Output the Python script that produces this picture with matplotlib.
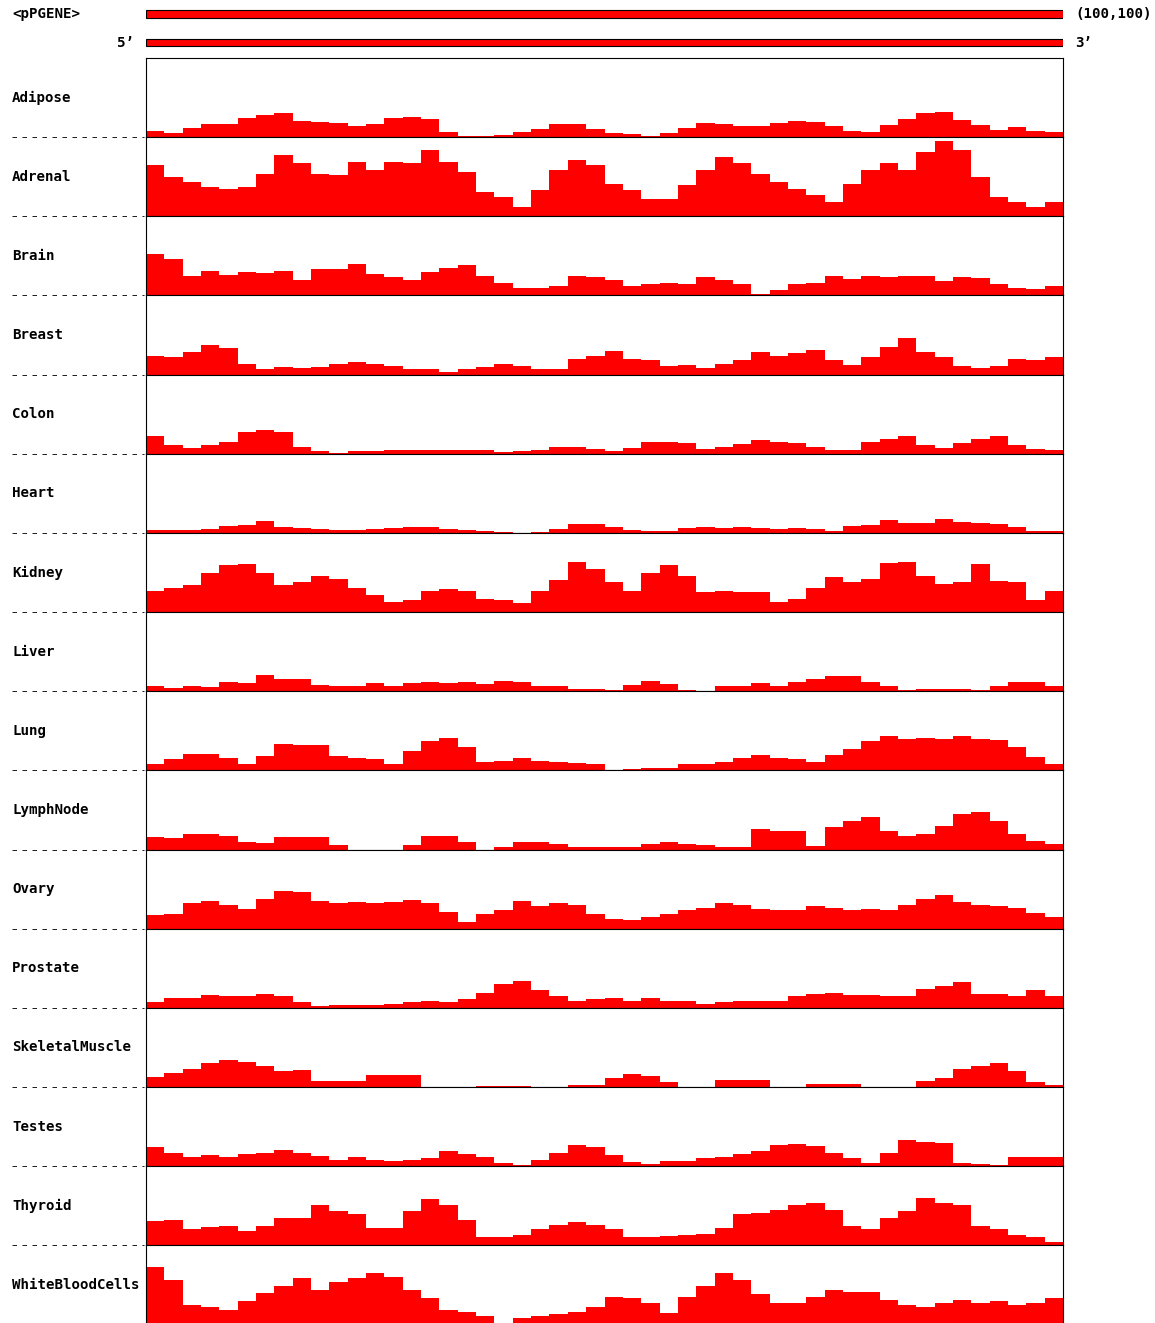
import numpy as np
import matplotlib
matplotlib.use("Agg")
import matplotlib.pyplot as plt

# expression profile along the gene, % of track height, 50 bins from 5' to 3'
adipose = [8, 5, 12, 16, 17, 24, 28, 30, 21, 19, 18, 14, 17, 24, 25, 23, 6, 2, 1, 3,
           6, 10, 17, 16, 10, 5, 4, 2, 5, 11, 18, 17, 14, 14, 18, 20, 19, 14, 8, 7,
           15, 23, 30, 32, 22, 15, 9, 13, 8, 7]
adrenal = [65, 50, 43, 37, 34, 37, 54, 77, 67, 54, 52, 69, 58, 69, 67, 84, 69, 56, 31, 24,
           12, 33, 58, 71, 65, 41, 33, 22, 22, 39, 58, 75, 67, 54, 43, 34, 27, 18, 41, 58,
           67, 58, 81, 95, 84, 50, 24, 18, 12, 18]
brain = [52, 46, 25, 31, 26, 29, 28, 31, 19, 33, 33, 40, 27, 23, 19, 29, 35, 38, 25, 16,
         10, 10, 12, 24, 23, 19, 12, 15, 16, 15, 23, 19, 15, 2, 7, 14, 16, 25, 21, 25,
         23, 25, 25, 18, 23, 22, 15, 9, 8, 12]
breast = [24, 22, 28, 38, 33, 14, 7, 10, 8, 10, 14, 16, 13, 11, 7, 7, 3, 7, 10, 13,
          11, 7, 7, 20, 24, 30, 20, 19, 11, 12, 8, 14, 18, 29, 24, 27, 31, 18, 12, 22,
          35, 46, 29, 22, 11, 8, 11, 20, 19, 22]
colon = [22, 11, 7, 11, 15, 28, 30, 28, 9, 3, 0.5, 3, 3, 5, 5, 5, 5, 5, 5, 2,
         3, 5, 8, 9, 6, 4, 7, 15, 15, 13, 6, 9, 12, 17, 15, 13, 9, 5, 5, 15,
         19, 22, 11, 7, 13, 19, 22, 11, 6, 5]
heart = [4, 4, 4, 5, 9, 10, 15, 8, 6, 5, 4, 4, 5, 6, 8, 8, 5, 4, 3, 1,
         0.5, 1, 5, 11, 11, 8, 4, 2, 3, 6, 8, 6, 7, 6, 5, 6, 5, 3, 9, 10,
         16, 12, 13, 18, 14, 13, 11, 8, 3, 3]
kidney = [27, 30, 34, 49, 59, 61, 49, 34, 38, 46, 42, 30, 21, 13, 15, 26, 29, 27, 16, 15,
          11, 27, 40, 63, 55, 38, 27, 49, 59, 46, 25, 27, 25, 25, 13, 17, 30, 44, 38, 42,
          62, 63, 46, 36, 38, 61, 39, 38, 15, 26]
liver = [6, 4, 6, 5, 11, 10, 20, 16, 15, 8, 7, 6, 10, 7, 10, 11, 10, 11, 9, 13,
         12, 6, 6, 3, 3, 1, 8, 13, 9, 1, 0, 6, 7, 10, 6, 12, 15, 19, 19, 12,
         6, 1, 3, 3, 3, 1, 7, 11, 12, 6]
lung = [8, 14, 21, 21, 16, 8, 18, 33, 32, 32, 18, 16, 14, 8, 24, 37, 41, 29, 10, 12,
        16, 12, 10, 9, 8, 1, 2, 3, 3, 8, 8, 10, 16, 19, 15, 14, 10, 20, 27, 37,
        43, 39, 41, 39, 43, 39, 38, 29, 17, 8]
lymphnode = [16, 14, 19, 20, 17, 10, 8, 16, 16, 16, 6, 0, 0, 0, 6, 17, 17, 10, 0, 3,
             10, 10, 7, 3, 3, 3, 3, 7, 9, 7, 6, 3, 3, 26, 24, 24, 5, 28, 36, 41,
             24, 17, 20, 30, 45, 47, 36, 19, 11, 7]
ovary = [17, 19, 32, 35, 30, 25, 38, 47, 46, 35, 33, 34, 32, 34, 36, 32, 21, 8, 19, 23,
         35, 29, 33, 30, 18, 12, 11, 15, 19, 23, 26, 32, 30, 25, 23, 23, 29, 26, 24, 25,
         23, 30, 38, 42, 34, 30, 29, 26, 20, 15]
prostate = [7, 12, 13, 16, 15, 15, 17, 15, 7, 2, 3, 4, 3, 5, 7, 8, 7, 11, 19, 30,
            34, 22, 15, 8, 11, 12, 9, 12, 9, 8, 5, 7, 9, 8, 9, 15, 17, 19, 16, 16,
            15, 15, 24, 28, 32, 17, 17, 15, 22, 15]
skeletal = [13, 18, 23, 30, 34, 32, 27, 20, 21, 8, 8, 8, 15, 15, 15, 0, 0, 0, 1, 1,
            1, 0, 0, 3, 3, 11, 16, 14, 6, 0, 0, 9, 9, 9, 0, 0, 4, 4, 4, 0,
            0, 0, 8, 11, 23, 27, 30, 20, 6, 3]
testes = [24, 16, 11, 14, 11, 15, 17, 20, 17, 13, 8, 11, 8, 7, 8, 10, 19, 15, 12, 4,
          1, 8, 16, 27, 24, 14, 5, 3, 7, 7, 10, 12, 15, 19, 27, 28, 25, 16, 10, 4,
          16, 33, 31, 29, 4, 3, 1, 12, 12, 12]
thyroid = [31, 32, 20, 23, 24, 18, 24, 35, 35, 51, 43, 40, 22, 22, 43, 58, 51, 32, 11, 11,
           13, 20, 26, 30, 26, 20, 11, 11, 12, 13, 14, 22, 39, 41, 45, 51, 54, 45, 24, 20,
           35, 43, 60, 54, 51, 24, 20, 13, 11, 4]
wbc = [73, 56, 24, 22, 18, 29, 40, 49, 58, 43, 54, 58, 65, 60, 43, 33, 18, 16, 11, 0,
       8, 11, 13, 16, 22, 35, 33, 27, 14, 35, 48, 65, 56, 39, 27, 27, 35, 43, 41, 41,
       31, 24, 22, 27, 31, 27, 30, 24, 27, 33]

tissues = ["Adipose", "Adrenal", "Brain", "Breast", "Colon", "Heart", "Kidney", "Liver",
           "Lung", "LymphNode", "Ovary", "Prostate", "SkeletalMuscle", "Testes",
           "Thyroid", "WhiteBloodCells"]
profiles = [adipose, adrenal, brain, breast, colon, heart, kidney, liver, lung,
            lymphnode, ovary, prostate, skeletal, testes, thyroid, wbc]

gene_name = "<pPGENE>"
gene_span = (0, 100)
gene_label = "(100,100)"

RED = "#ff0000"
W, H = 1155, 1323
LEFT, WIDTH = 146, 917
TOP, PITCH = 58, 79.15
FONT = dict(family="DejaVu Sans Mono", fontweight="bold", fontsize=10.2)

fig = plt.figure(figsize=(W / 100, H / 100), dpi=100)


def px_axes(x0, y0, w, h):
    return fig.add_axes([x0 / W, 1 - (y0 + h) / H, w / W, h / H])


# background layer in pixel units for labels and separators
bg = fig.add_axes([0, 0, 1, 1], zorder=0)
bg.set_xlim(0, W)
bg.set_ylim(H, 0)
bg.axis("off")

# header: gene bar and transcript bar
hdr = px_axes(LEFT, 0, WIDTH, TOP)
hdr.set_xlim(*gene_span)
hdr.set_ylim(TOP, 0)
hdr.axis("off")
hdr.barh([14, 42.5], [gene_span[1] - gene_span[0]] * 2, left=gene_span[0],
         height=[8, 7.5], color=RED, edgecolor="black", linewidth=0.8)

bg.text(12, 14, gene_name, va="center", ha="left", **FONT)
bg.text(1075, 14, gene_label, va="center", ha="left", **FONT)
bg.text(134, 43, "5\u2019", va="center", ha="right", **FONT)
bg.text(1075, 43, "3\u2019", va="center", ha="left", **FONT)

for i, (name, vals) in enumerate(zip(tissues, profiles)):
    top = TOP + PITCH * i
    ax = px_axes(LEFT, top, WIDTH, PITCH)
    ax.set_zorder(2)
    n = len(vals)
    ax.stairs(vals, np.arange(n + 1), fill=True, color=RED, linewidth=0)
    ax.set_xlim(0, n)
    ax.set_ylim(0, 100)
    ax.set_xticks([])
    ax.set_yticks([])
    for sp in ax.spines.values():
        sp.set_linewidth(0.8)
        sp.set_color("black")

    bg.text(12, top + PITCH / 2, name, va="center", ha="left", **FONT)
    if i < len(tissues) - 1:
        bg.plot([12, 144], [top + PITCH, top + PITCH], color="#222222",
                linewidth=0.72, linestyle=(0, (4.5, 5.5)))

fig.savefig("out.png", dpi=100)
